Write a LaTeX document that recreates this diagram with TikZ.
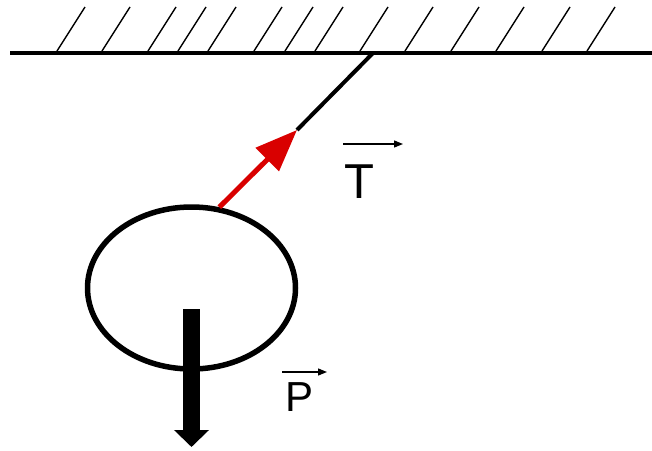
\documentclass[tikz,border=0pt]{standalone}
\usepackage{fontspec}
\setmainfont{Liberation Sans}
\usetikzlibrary{arrows.meta,shapes.geometric}
\begin{document}
\begin{tikzpicture}[
    x=1pt, y=-1pt,
    hatch/.style={line width=1.4pt},
    vec/.style={line width=1.3pt, -{Triangle[length=9pt, width=7pt]}},
    lbl/.style={inner sep=0pt, anchor=base west}
]
  \useasboundingbox (0,0) rectangle (652,450);

  % Plafond et hachures
  \draw[line width=4.5pt] (10,53) -- (652,53);
  \foreach \hx in {57,102,148,178,208,254,285,315,360,405,451,496,542,587}
    \draw[hatch] (\hx,51) -- (\hx+28,7);

  % Anneau suspendu
  \node[draw, ellipse, line width=5.5pt, minimum width=208pt, minimum height=162pt,
        inner sep=0pt] (ring) at (191.5,288) {};
  \coordinate (hook) at (373,53);
  \coordinate (tip) at (297,130);
  \draw[line width=4pt] (tip) -- (hook);

  % Tension (rouge)
  \draw[red!85!black, line width=5pt, -{Triangle[length=42pt, width=32pt]}]
       (ring.71) -- (tip);

  % Poids
  \coordinate (bartop) at (191.5,309);
  \coordinate (barend) at (191.5,447);
  \draw[line width=17pt, -{Triangle[length=17pt, width=34pt]}] (bartop) -- (barend);

  % Etiquettes des vecteurs
  \node[lbl, font=\fontsize{49}{49}\selectfont] (T) at (344,198) {T};
  \coordinate (tvs) at (343,144);
  \coordinate (tve) at (403,144);
  \draw[vec] (tvs) -- (tve);

  \node[lbl, font=\fontsize{42}{42}\selectfont] (P) at (285,411) {P};
  \coordinate (pvs) at (282,372);
  \coordinate (pve) at (327,372);
  \draw[vec] (pvs) -- (pve);
\end{tikzpicture}
\end{document}
